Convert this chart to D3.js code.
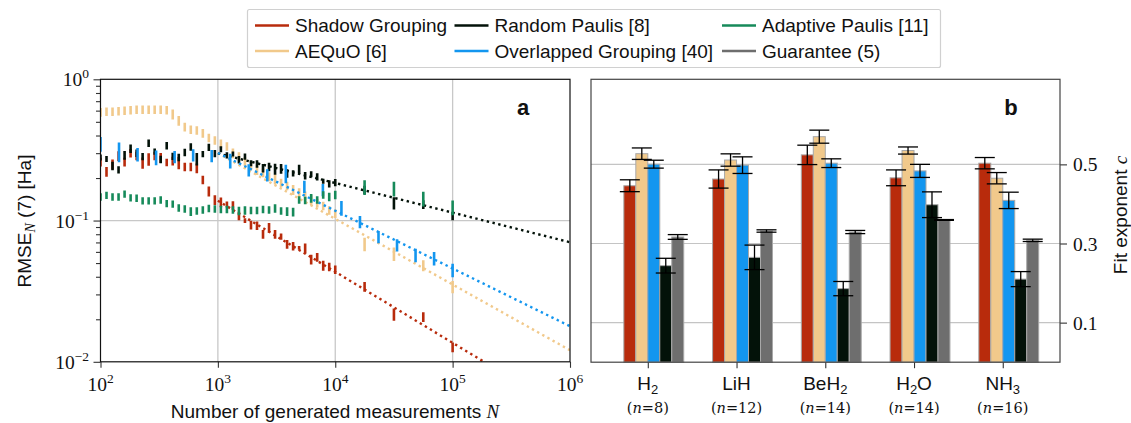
<!DOCTYPE html>
<html><head><meta charset="utf-8">
<script src="https://cdn.jsdelivr.net/npm/d3@7"></script>
<style>body{margin:0;background:#fff}svg{display:block}</style>
</head><body>
<svg id="c" width="1131" height="423"></svg>
<script>
// ---------------- DATA ----------------
const legendNames = ["Shadow Grouping","AEQuO [6]","Random Paulis [8]","Overlapped Grouping [40]","Adaptive Paulis [11]","Guarantee (5)"];
// measurement grid (dense 10^2..10^4, then sparse)
const N_grid = [100,112.5,126.6,142.5,160.4,180.5,203.1,228.5,257.2,289.4,325.7,366.5,412.4,464.1,522.3,587.8,661.4,744.3,837.6,942.6,
  1060.7,1193.8,1343.4,1511.7,1701.1,1914.3,2154.4,2424.4,2728.2,3070.1,3454.9,3887.9,4375.2,4923.5,5540.5,6234.8,7016.0,7895.3,8884.7,10000,
  17783,31623,56234,100000];
const N_overlap = [100,143.8,206.9,297.6,428.1,615.8,885.9,1274.3,1833.0,2636.7,3792.7,5455.6,7847.6,11288,16238,23357,33598,48329,69519,100000];

const rmseShadow = [0.26,0.222,0.25,0.287,0.26,0.30,0.287,0.256,0.272,0.287,0.278,0.258,0.264,0.256,0.24,0.24,0.235,0.194,0.161,0.14,
  0.135,0.13,0.128,0.108,0.10,0.093,0.092,0.08,0.089,0.08,0.077,0.068,0.066,0.064,0.0636,0.053,0.055,0.048,0.047,0.045,
  0.034,0.0217,0.0208,0.0127];
const errShadow = [0.07,0.08,0.08,0.08,0.07,0.07,0.07,0.09,0.1,0.07,0.08,0.06,0.07,0.1,0.07,0.07,0.08,0.07,0.08,0.08,
  0.08,0.05,0.07,0.07,0.04,0.07,0.07,0.07,0.08,0.07,0.05,0.07,0.07,0.03,0.08,0.08,0.07,0.08,0.07,0.07,
  0.08,0.1,0.08,0.08];
const rmseAEQuO = [0.585,0.59,0.59,0.595,0.60,0.605,0.61,0.61,0.61,0.61,0.61,0.605,0.565,0.51,0.46,0.44,0.435,0.415,0.385,0.37,
  0.35,0.335,0.30,0.285,0.262,0.245,0.228,0.218,0.205,0.196,0.185,0.176,0.165,0.158,0.15,0.14,0.133,0.127,0.118,0.112,
  0.068,0.058,0.048,0.034];
const errAEQuO = [0.07,0.07,0.07,0.07,0.07,0.07,0.07,0.07,0.07,0.07,0.07,0.07,0.08,0.08,0.07,0.07,0.07,0.07,0.07,0.07,
  0.07,0.07,0.08,0.07,0.07,0.07,0.08,0.07,0.07,0.08,0.07,0.07,0.08,0.07,0.07,0.08,0.07,0.07,0.07,0.07,
  0.11,0.11,0.09,0.1];
const rmseRandom = [0.28,0.273,0.244,0.229,0.29,0.323,0.30,0.284,0.353,0.308,0.271,0.339,0.285,0.28,0.304,0.332,0.273,0.296,0.33,0.298,
  0.32,0.29,0.296,0.27,0.284,0.255,0.252,0.235,0.24,0.232,0.233,0.216,0.216,0.232,0.208,0.213,0.204,0.19,0.182,0.186,
  0.165,0.133,0.13,0.108];
const errRandom = [0.05,0.05,0.07,0.06,0.07,0.07,0.06,0.06,0.06,0.05,0.06,0.06,0.06,0.06,0.06,0.06,0.1,0.05,0.06,0.06,
  0.05,0.05,0.04,0.06,0.05,0.05,0.06,0.07,0.07,0.09,0.08,0.07,0.05,0.07,0.06,0.05,0.06,0.04,0.06,0.06,
  0.07,0.1,0.07,0.07];
const rmseOverlap = [0.349,0.308,0.294,0.28,0.283,0.291,0.287,0.265,0.228,0.21,0.216,0.174,0.165,0.123,0.098,0.0768,0.067,0.057,0.054,0.0445];
const errOverlap = [0.12,0.16,0.11,0.12,0.1,0.1,0.1,0.12,0.1,0.1,0.15,0.1,0.1,0.12,0.1,0.1,0.1,0.11,0.11,0.11];
const rmseAdaptive = [0.147,0.151,0.147,0.147,0.154,0.145,0.144,0.138,0.138,0.138,0.14,0.132,0.131,0.123,0.121,0.116,0.117,0.119,0.122,0.121,
  0.12,0.12,0.119,0.117,0.118,0.118,0.118,0.12,0.119,0.122,0.117,0.116,0.115,0.14,0.139,0.144,0.14,0.152,0.147,0.152,
  0.172,0.168,0.143,0.124];
const errAdaptive = [0.06,0.06,0.06,0.06,0.06,0.06,0.06,0.06,0.06,0.06,0.06,0.06,0.06,0.06,0.06,0.07,0.06,0.06,0.06,0.06,
  0.06,0.06,0.06,0.07,0.07,0.06,0.06,0.06,0.06,0.07,0.06,0.07,0.07,0.06,0.06,0.07,0.06,0.06,0.07,0.07,
  0.12,0.12,0.12,0.12];
// power-law fits, values at the ends of the fit range
const fitN = [1e3, 1e6];
const fitShadow = [0.138, 0.00428];
const fitAEQuO = [0.300, 0.01208];
const fitRandom = [0.299, 0.0702];
const fitOverlap = [0.301, 0.01786];

// panel b
const molecules = [["H","2",""],["LiH","",""],["BeH","2",""],["H","2","O"],["NH","3",""]];
const qubits = ["8","12","14","14","16"];
const expShadow = [0.446,0.463,0.524,0.466,0.503];
const expShadowErr = [0.015,0.023,0.0245,0.02,0.0143];
const expAEQuO = [0.527,0.511,0.570,0.535,0.465];
const expAEQuOErr = [0.0145,0.0156,0.0165,0.009,0.0143];
const expOverlap = [0.5005,0.498,0.503,0.4835,0.409];
const expOverlapErr = [0.01,0.021,0.011,0.0165,0.0207];
const expRandom = [0.244,0.265,0.186,0.398,0.210];
const expRandomErr = [0.0186,0.031,0.018,0.0325,0.019];
const expGuarantee = [0.3165,0.3316,0.329,0.3595,0.308];
const expGuaranteeErr = [0.006,0.003,0.004,0.001,0.003];

const xTicksA = [1e2,1e3,1e4,1e5,1e6];
const xTickExpA = ["2","3","4","5","6"];
const yTicksA = [1,0.1,0.01];
const yTickExpA = ["0","\u22121","\u22122"];
const yMinorA = [0.02,0.03,0.04,0.05,0.06,0.07,0.08,0.09,0.2,0.3,0.4,0.5,0.6,0.7,0.8,0.9];
const yTicksB = [0.1,0.3,0.5];

// ---------------- STYLE ----------------
const COL = {red:"#b82b0c", beige:"#f1c98b", black:"#031209", blue:"#1396ef", green:"#168a5a", gray:"#6e6e6e"};
const SANS = "'Liberation Sans', Arial, Helvetica, sans-serif";
const SERIF = "'Liberation Serif', 'Times New Roman', serif";
const SERIF2 = "'DejaVu Serif', 'Liberation Serif', serif";

const svg = d3.select("#c");
svg.append("rect").attr("width",1131).attr("height",423).attr("fill","#fff");

// ---------------- PANEL A ----------------
const xA = d3.scaleLog().domain([1e2,1e6]).range([100.5,570]);
const yA = d3.scaleLog().domain([1e-2,1]).range([361.8,79.3]);
const gA = svg.append("g");
gA.append("defs").append("clipPath").attr("id","clipA").append("rect")
  .attr("x",xA.range()[0]).attr("y",yA.range()[1]).attr("width",xA.range()[1]-xA.range()[0]).attr("height",yA.range()[0]-yA.range()[1]);

// grid
gA.selectAll("line.gx").data(xTicksA.slice(1,-1)).join("line")
  .attr("x1",d=>xA(d)).attr("x2",d=>xA(d)).attr("y1",yA.range()[1]).attr("y2",yA.range()[0])
  .attr("stroke","#c8c8c8").attr("stroke-width",1.3);
gA.selectAll("line.gy").data([0.1]).join("line")
  .attr("x1",xA.range()[0]).attr("x2",xA.range()[1]).attr("y1",d=>yA(d)).attr("y2",d=>yA(d))
  .attr("stroke","#c8c8c8").attr("stroke-width",1.3);

const seriesA = [
  {c:COL.red, N:N_grid, v:rmseShadow, e:errShadow, fit:fitShadow},
  {c:COL.beige, N:N_grid, v:rmseAEQuO, e:errAEQuO, fit:fitAEQuO},
  {c:COL.black, N:N_grid, v:rmseRandom, e:errRandom, fit:fitRandom},
  {c:COL.blue, N:N_overlap, v:rmseOverlap, e:errOverlap, fit:fitOverlap},
  {c:COL.green, N:N_grid, v:rmseAdaptive, e:errAdaptive, fit:null}
];
const plotA = gA.append("g").attr("clip-path","url(#clipA)");
const line = d3.line().x(d=>xA(d[0])).y(d=>yA(d[1]));
seriesA.forEach(s=>{
  if (s.fit) {
    plotA.append("path").datum(fitN.map((n,i)=>[n,s.fit[i]]))
      .attr("d",line).attr("fill","none").attr("stroke",s.c).attr("stroke-width",2.4)
      .attr("stroke-dasharray","2.4,3.5");
  }
  plotA.append("g").selectAll("line").data(s.N.map((n,i)=>({n,v:s.v[i],e:s.e[i]}))).join("line")
    .attr("x1",d=>xA(d.n)).attr("x2",d=>xA(d.n))
    .attr("y1",d=>yA(d.v*(1+d.e))).attr("y2",d=>yA(d.v*(1-d.e)))
    .attr("stroke",s.c).attr("stroke-width",2.6);
});

// axes panel A
const axLA = gA.append("g").attr("transform",`translate(${xA.range()[0]},0)`)
  .call(d3.axisLeft(yA).tickValues(yTicksA).tickSize(7).tickFormat(""));
const axLAm = gA.append("g").attr("transform",`translate(${xA.range()[0]},0)`)
  .call(d3.axisLeft(yA).tickValues(yMinorA).tickSize(4.5).tickFormat(""));
const axBA = gA.append("g").attr("transform",`translate(0,${yA.range()[0]})`)
  .call(d3.axisBottom(xA).tickValues(xTicksA).tickSize(6).tickFormat(""));
[axLA,axLAm,axBA].forEach(a=>{a.select(".domain").remove(); a.selectAll(".tick line").attr("stroke","#333").attr("stroke-width",1.1);});
gA.append("rect").attr("x",xA.range()[0]).attr("y",yA.range()[1])
  .attr("width",xA.range()[1]-xA.range()[0]).attr("height",yA.range()[0]-yA.range()[1])
  .attr("fill","none").attr("stroke","#111").attr("stroke-width",1.2);

// tick labels A
xTicksA.forEach((t,i)=>{
  const tx = gA.append("text").attr("x",xA(t)).attr("y",391).attr("text-anchor","middle")
    .attr("font-family",SERIF).attr("font-size",19.5).attr("fill","#111");
  tx.append("tspan").text("10");
  tx.append("tspan").attr("dy",-8).attr("font-size",13.5).text(xTickExpA[i]);
});
yTicksA.forEach((t,i)=>{
  const tx = gA.append("text").attr("x",89).attr("y",yA(t)+7).attr("text-anchor","end")
    .attr("font-family",SERIF).attr("font-size",19.5).attr("fill","#111");
  tx.append("tspan").text("10");
  tx.append("tspan").attr("dy",-8).attr("font-size",13.5).text(yTickExpA[i]);
});
// axis labels A
const xlab = gA.append("text").attr("x",335).attr("y",418).attr("text-anchor","middle")
  .attr("font-family",SANS).attr("font-size",19).attr("fill","#111");
xlab.append("tspan").text("Number of generated measurements ");
xlab.append("tspan").attr("font-family",SERIF).attr("font-style","italic").text("N");
const ylab = gA.append("text").attr("transform","translate(31,221) rotate(-90)").attr("text-anchor","middle")
  .attr("font-family",SANS).attr("font-size",19).attr("fill","#111");
ylab.append("tspan").text("RMSE");
ylab.append("tspan").attr("font-family",SERIF).attr("font-style","italic").attr("font-size",14).attr("dy",4).text("N");
ylab.append("tspan").attr("dy",-4).text(" (7) [Ha]");
gA.append("text").attr("x",523).attr("y",115).attr("text-anchor","middle")
  .attr("font-family",SANS).attr("font-weight","bold").attr("font-size",22).attr("fill","#111").text("a");

// ---------------- PANEL B ----------------
const xB = d3.scaleLinear().domain([-0.64,4.645]).range([591,1060]);
const yB = d3.scaleLinear().domain([0,0.715]).range([362.2,79.3]);
const gB = svg.append("g");
gB.selectAll("line.g").data(yTicksB).join("line")
  .attr("x1",xB.range()[0]).attr("x2",xB.range()[1]).attr("y1",d=>yB(d)).attr("y2",d=>yB(d))
  .attr("stroke","#c4c4c4").attr("stroke-width",1.2);
const barW = 0.135;
const barSeries = [
  {c:COL.red, v:expShadow, e:expShadowErr},
  {c:COL.beige, v:expAEQuO, e:expAEQuOErr},
  {c:COL.blue, v:expOverlap, e:expOverlapErr},
  {c:COL.black, v:expRandom, e:expRandomErr},
  {c:COL.gray, v:expGuarantee, e:expGuaranteeErr}
];
barSeries.forEach((s,j)=>{
  const d = molecules.map((m,i)=>({i, v:s.v[i], e:s.e[i]}));
  gB.append("g").selectAll("rect").data(d).join("rect")
    .attr("x",d=>xB(d.i+(j-2)*barW)).attr("width",d=>xB(d.i+(j-1)*barW)-xB(d.i+(j-2)*barW))
    .attr("y",d=>yB(d.v)).attr("height",d=>yB(0)-yB(d.v))
    .attr("fill",s.c).attr("stroke","#a8a8a8").attr("stroke-width",1);
});
barSeries.forEach((s,j)=>{
  const d = molecules.map((m,i)=>({cx:xB(d3.mean([i+(j-2)*barW, i+(j-1)*barW])), v:s.v[i], e:s.e[i]}));
  const g = gB.append("g").attr("stroke","#000").attr("stroke-width",1.3);
  g.selectAll("line.v").data(d).join("line").attr("x1",d=>d.cx).attr("x2",d=>d.cx)
    .attr("y1",d=>yB(d.v+d.e)).attr("y2",d=>yB(d.v-d.e));
  g.selectAll("line.t").data(d).join("line").attr("x1",d=>d.cx-10).attr("x2",d=>d.cx+10)
    .attr("y1",d=>yB(d.v+d.e)).attr("y2",d=>yB(d.v+d.e));
  g.selectAll("line.b").data(d).join("line").attr("x1",d=>d.cx-10).attr("x2",d=>d.cx+10)
    .attr("y1",d=>yB(d.v-d.e)).attr("y2",d=>yB(d.v-d.e));
});
const axRB = gB.append("g").attr("transform",`translate(${xB.range()[1]},0)`)
  .call(d3.axisRight(yB).tickValues(yTicksB).tickSize(7).tickFormat(""));
const axBB = gB.append("g").attr("transform",`translate(0,${yB.range()[0]})`)
  .call(d3.axisBottom(xB).tickValues(d3.range(molecules.length)).tickSize(6).tickFormat(""));
[axRB,axBB].forEach(a=>{a.select(".domain").remove(); a.selectAll(".tick line").attr("stroke","#333").attr("stroke-width",1.1);});
gB.append("rect").attr("x",xB.range()[0]).attr("y",yB.range()[1])
  .attr("width",xB.range()[1]-xB.range()[0]).attr("height",yB.range()[0]-yB.range()[1])
  .attr("fill","none").attr("stroke","#444").attr("stroke-width",1.2);
yTicksB.forEach(t=>{
  gB.append("text").attr("x",1073).attr("y",yB(t)+7).attr("font-family",SERIF).attr("font-size",19.5)
    .attr("fill","#111").text(d3.format(".1f")(t));
});
molecules.forEach((m,i)=>{
  const t = gB.append("text").attr("x",xB(i)).attr("y",390).attr("text-anchor","middle")
    .attr("font-family",SANS).attr("font-size",19).attr("fill","#111");
  t.append("tspan").text(m[0]);
  if (m[1]) t.append("tspan").attr("font-size",13).attr("dy",4).text(m[1]);
  if (m[2]) t.append("tspan").attr("dy",-4).text(m[2]);
  const q = gB.append("text").attr("x",xB(i)).attr("y",413).attr("text-anchor","middle")
    .attr("font-family",SERIF2).attr("font-size",14.5).attr("fill","#111");
  q.append("tspan").text("(");
  q.append("tspan").attr("font-style","italic").text("n");
  q.append("tspan").text("=" + qubits[i] + ")");
});
const rlab = gB.append("text").attr("transform","translate(1127,215) rotate(-90)").attr("text-anchor","middle")
  .attr("font-family",SANS).attr("font-size",19).attr("fill","#111");
rlab.append("tspan").text("Fit exponent ");
rlab.append("tspan").attr("font-family",SERIF).attr("font-style","italic").text("c");
gB.append("text").attr("x",1011).attr("y",115).attr("text-anchor","middle")
  .attr("font-family",SANS).attr("font-weight","bold").attr("font-size",22).attr("fill","#111").text("b");

// ---------------- LEGEND ----------------
const legColors = [COL.red, COL.beige, COL.black, COL.blue, COL.green, COL.gray];
const gL = svg.append("g");
gL.append("rect").attr("x",247.5).attr("y",9.5).attr("width",693).attr("height",58).attr("rx",2)
  .attr("fill","#fff").attr("stroke","#d0d0d0").attr("stroke-width",1.2);
const colX = [255, 454.5, 722];
const rowY = [25.5, 51];
legendNames.forEach((name,k)=>{
  const col = Math.floor(k/2), row = k%2;
  gL.append("line").attr("x1",colX[col]).attr("x2",colX[col]+34).attr("y1",rowY[row]).attr("y2",rowY[row])
    .attr("stroke",legColors[k]).attr("stroke-width",2.5);
  gL.append("text").attr("x",colX[col]+40).attr("y",rowY[row]+6.7).attr("font-family",SANS).attr("font-size",19)
    .attr("fill","#111").text(name);
});
</script>
</body></html>
